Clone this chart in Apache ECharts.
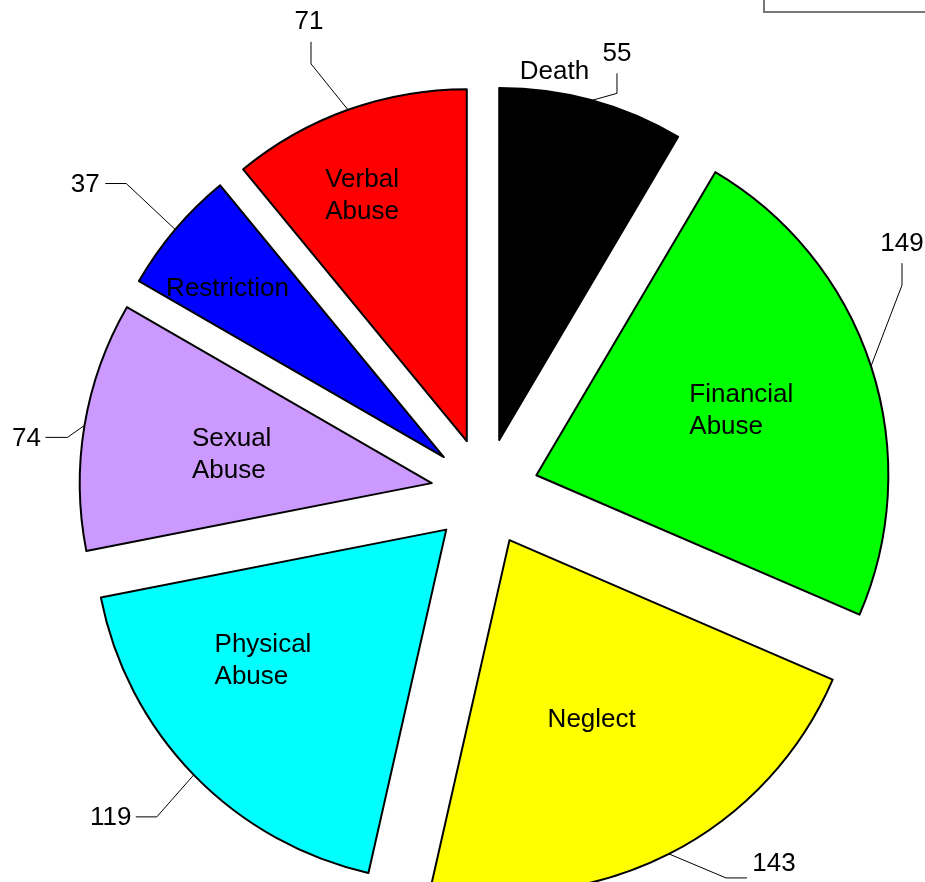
<!DOCTYPE html>
<html>
<head>
<meta charset="utf-8">
<script src="https://cdn.jsdelivr.net/npm/echarts@6/dist/echarts.min.js"></script>
<style>
  html, body { margin: 0; padding: 0; background: #fff; }
  #chart { width: 925px; height: 882px; }
</style>
</head>
<body>
<div id="chart"></div>
<script>
// data, clockwise from 12 o'clock
const categories = ['Death', 'Financial Abuse', 'Neglect', 'Physical Abuse', 'Sexual Abuse', 'Restriction', 'Verbal Abuse'];
const counts = [55, 149, 143, 119, 74, 37, 71];
const colors = ['#000000', '#00FF00', '#FFFF00', '#00FFFF', '#CC99FF', '#0000FF', '#FF0000'];

const center = [485, 492];
const radius = 352;
const explode = 54;
const font = '"Liberation Sans", Arial, sans-serif';

// value label leader lines: elbow offset from the arc, tail, text offset from the tail end
const leaders = [
  { elbow: [25, -7], tail: [0, -20], text: [0, -20] },
  { elbow: [31, -81], tail: [0, -22], text: [0, -19] },
  { elbow: [57, 24], tail: [21, 0], text: [27, -14] },
  { elbow: [-37, 42], tail: [-21, 0], text: [-25, 1] },
  { elbow: [-17, 12], tail: [-22, 0], text: [-19, 1] },
  { elbow: [-49, -46], tail: [-21, 0], text: [-20, 1] },
  { elbow: [-37, -46], tail: [0, -22], text: [-2, -20] }
];
// name labels: distance from pie centre, angle shift (deg) from slice middle
const namePlace = [[426, -5.9], [269, 0.4], [252, 1.9], [279, 6.9], [256, -1.2], [328, -2.0], [321, -2.8]];

const chart = echarts.init(document.getElementById('chart'));

// angle from 12 o'clock, clockwise
function angleOf(x, y) {
  return Math.atan2(x - center[0], center[1] - y);
}
function polar(a, r) {
  return [center[0] + r * Math.sin(a), center[1] - r * Math.cos(a)];
}

function valueLayout(params) {
  const pts = params.labelLinePoints;
  if (!pts) return {};
  const l = leaders[params.dataIndex];
  const a = angleOf(pts[0][0], pts[0][1]);
  const p0 = polar(a, radius + explode);
  const p1 = [p0[0] + l.elbow[0], p0[1] + l.elbow[1]];
  const p2 = [p1[0] + l.tail[0], p1[1] + l.tail[1]];
  return {
    x: p2[0] + l.text[0],
    y: p2[1] + l.text[1],
    align: 'center',
    verticalAlign: 'middle',
    labelLinePoints: [p0, p1, p2]
  };
}

function nameLayout(params) {
  const r = params.labelRect;
  const np = namePlace[params.dataIndex];
  const a = angleOf(r.x + r.width / 2, r.y + r.height / 2) + np[1] * Math.PI / 180;
  const p = polar(a, np[0]);
  return {
    x: p[0] - r.width / 2,
    y: p[1],
    align: 'left',
    verticalAlign: 'middle'
  };
}

const pieBase = {
  type: 'pie',
  center: center,
  radius: radius,
  startAngle: 90,
  clockwise: true,
  avoidLabelOverlap: false,
  emphasis: { disabled: true }
};

const option = {
  animation: false,
  backgroundColor: '#fff',
  graphic: [
    {
      // corner of the legend box, cut off by the frame
      type: 'rect',
      shape: { x: 764, y: -40, width: 200, height: 52 },
      style: { fill: 'none', stroke: '#777', lineWidth: 2 }
    }
  ],
  series: [
    Object.assign({}, pieBase, {
      // the exploded slices
      selectedMode: 'multiple',
      selectedOffset: explode,
      itemStyle: { borderColor: '#000', borderWidth: 2 },
      select: { itemStyle: { borderColor: '#000', borderWidth: 2 } },
      label: { show: false },
      labelLine: { show: false },
      data: categories.map((name, i) => ({
        name: name,
        value: counts[i],
        selected: true,
        itemStyle: { color: colors[i] }
      }))
    }),
    Object.assign({}, pieBase, {
      // overlay carrying the counts with leader lines
      silent: true,
      z: 3,
      itemStyle: { color: 'rgba(0,0,0,0)', borderWidth: 0 },
      label: {
        show: true,
        position: 'outside',
        formatter: '{c}',
        color: '#000',
        fontSize: 26,
        fontFamily: font
      },
      labelLine: {
        show: true,
        length: 20,
        length2: 20,
        lineStyle: { color: '#000', width: 1 }
      },
      labelLayout: valueLayout,
      data: categories.map((name, i) => ({ name: name, value: counts[i] }))
    }),
    Object.assign({}, pieBase, {
      // overlay carrying the category names
      silent: true,
      z: 4,
      itemStyle: { color: 'rgba(0,0,0,0)', borderWidth: 0 },
      label: {
        show: true,
        position: 'inside',
        formatter: (p) => p.name.replace(' ', '\n'),
        color: '#000',
        fontSize: 26,
        lineHeight: 32,
        fontFamily: font
      },
      labelLine: { show: false },
      labelLayout: nameLayout,
      data: categories.map((name, i) => ({ name: name, value: counts[i] }))
    })
  ]
};

chart.setOption(option);
</script>
</body>
</html>
